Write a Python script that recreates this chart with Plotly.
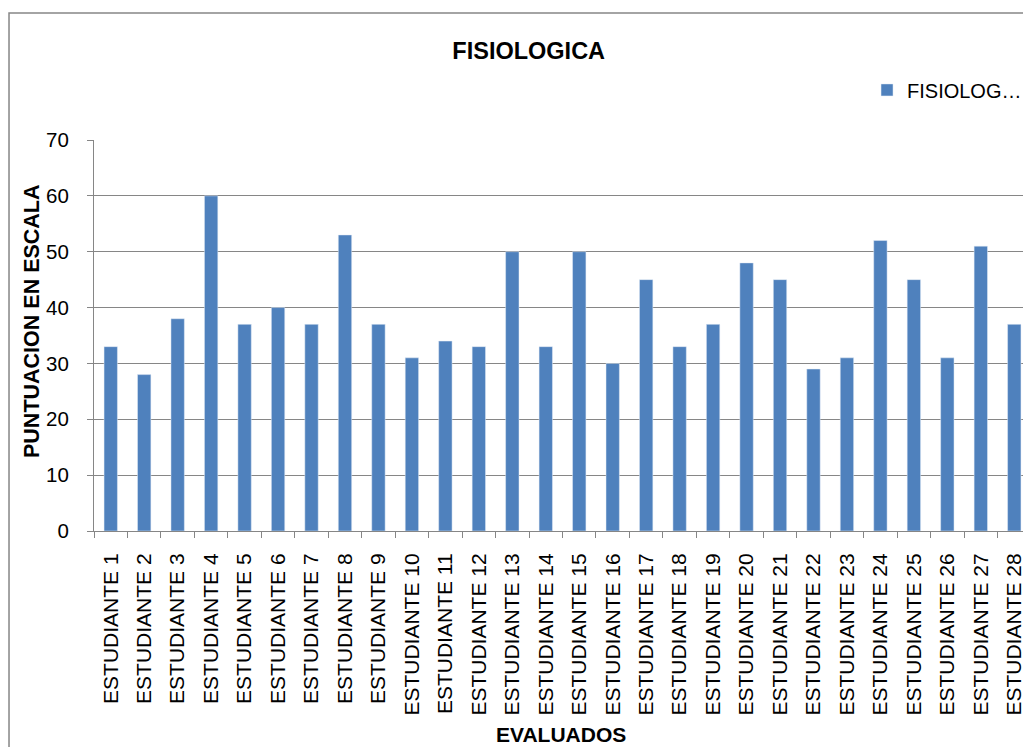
import plotly.graph_objects as go

BLUE = '#4F81BD'
GRAY = '#868686'

estudiantes = [f'ESTUDIANTE {i}' for i in range(1, 29)]
puntuacion = [33, 28, 38, 60, 37, 40, 37, 53, 37, 31, 34, 33, 50, 33,
              50, 30, 45, 33, 37, 48, 45, 29, 31, 52, 45, 31, 51, 37]
y_ticks = [0, 10, 20, 30, 40, 50, 60, 70]

FONT = 'Liberation Sans, Arial, sans-serif'

fig = go.Figure(go.Bar(
    x=estudiantes, y=puntuacion,
    name='FISIOLOG…',
    marker_color=BLUE,
    width=0.4,
    showlegend=True,
))

fig.update_layout(
    width=1023, height=739,
    paper_bgcolor='white', plot_bgcolor='white',
    font=dict(family=FONT, color='black'),
    margin=dict(l=86, r=0, t=132, b=216),
    title=dict(text='<b>FISIOLOGICA</b>', x=0.509, xanchor='center',
               y=0.942, yanchor='middle',
               font=dict(family=FONT, size=23.5, color='black')),
    legend=dict(x=0.825, y=1.128, xanchor='left', yanchor='middle',
                font=dict(family=FONT, size=20, color='black'),
                itemwidth=30, bgcolor='rgba(0,0,0,0)'),
)

fig.update_xaxes(
    type='category', tickangle=-90,
    tickfont=dict(family=FONT, size=21, color='black'),
    showline=True, linecolor=GRAY, linewidth=1,
    ticks='outside', tickson='boundaries', ticklen=6, tickcolor=GRAY,
    ticklabelstandoff=13,
    showgrid=False,
)
fig.update_yaxes(
    range=[0, 70], tickvals=y_ticks,
    tickfont=dict(family=FONT, size=20.5, color='black'),
    showline=True, linecolor=GRAY, linewidth=1,
    ticks='outside', ticklen=6, tickcolor=GRAY,
    ticklabelstandoff=14,
    showgrid=True, gridcolor=GRAY, gridwidth=1,
    zeroline=False,
)

# axis titles as annotations so they can sit where Excel put them
fig.add_annotation(text='<b>PUNTUACION EN ESCALA</b>', textangle=-90,
                   xref='paper', yref='paper', x=-0.0662, y=0.537,
                   xanchor='center', yanchor='middle',
                   showarrow=False, font=dict(family=FONT, size=21.5))
fig.add_annotation(text='<b>EVALUADOS</b>',
                   xref='paper', yref='paper', x=0.4984, y=-0.5217,
                   xanchor='center', yanchor='middle',
                   showarrow=False, font=dict(family=FONT, size=21))

# chart-area border (Excel style), runs off the right and bottom edges
fig.add_shape(type='rect', xref='paper', yref='paper',
              x0=-0.0907, x1=1.2, y0=-1.0, y1=1.3248,
              line=dict(color=GRAY, width=1.5), layer='below')

fig.write_html('out.html')
